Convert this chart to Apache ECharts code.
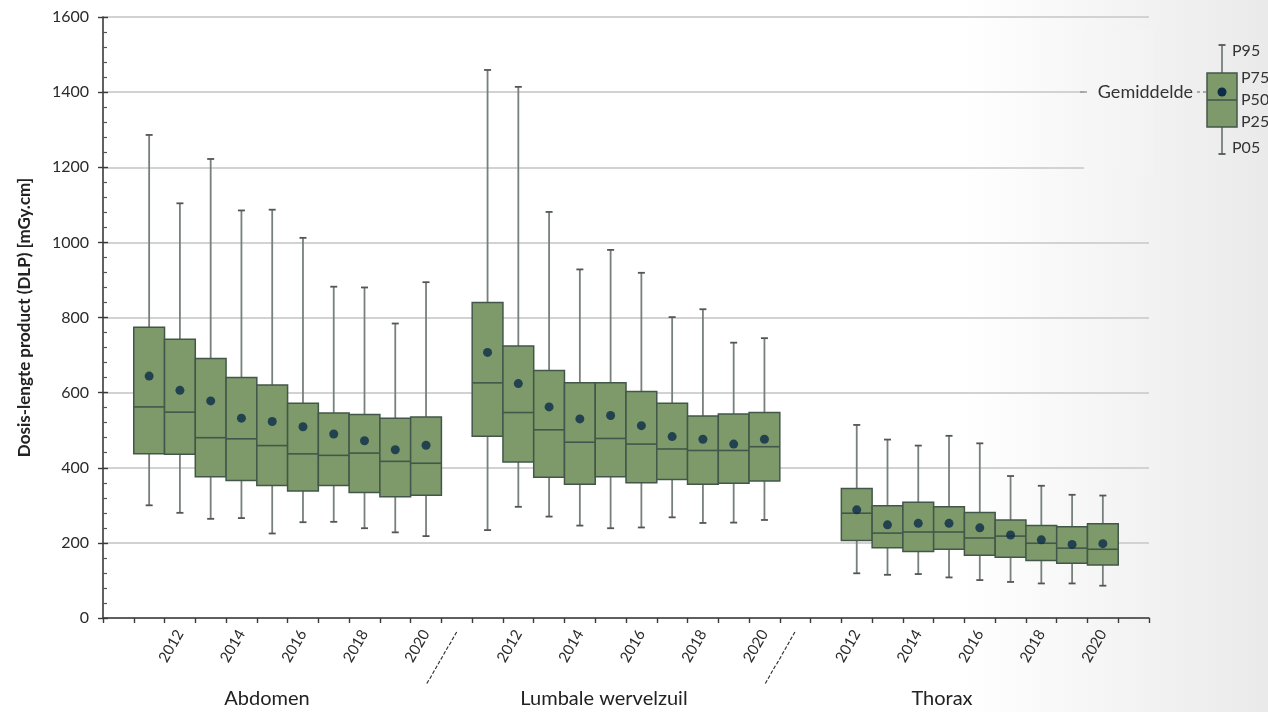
<!DOCTYPE html>
<html>
<head>
<meta charset="utf-8">
<script src="https://cdn.jsdelivr.net/npm/echarts@6/dist/echarts.min.js"></script>
<style>html,body{margin:0;padding:0;background:#fff}#c{width:1268px;height:712px}</style>
</head>
<body>
<div id="c"></div>
<script>
// ---- data ----
const groups = ['Abdomen', 'Lumbale wervelzuil', 'Thorax'];
const years = [2011, 2012, 2013, 2014, 2015, 2016, 2017, 2018, 2019, 2020];
const yTicks = [0, 200, 400, 600, 800, 1000, 1200, 1400, 1600];
const separatorLabel = '-----------';

// per year: [P05, P25, P50, P75, P95]
const abdomenStats = [
  [300, 437, 562, 774, 1286],
  [280, 436, 548, 742, 1104],
  [264, 376, 480, 691, 1222],
  [266, 366, 477, 640, 1085],
  [225, 353, 459, 620, 1087],
  [255, 338, 437, 572, 1012],
  [256, 353, 433, 546, 882],
  [239, 334, 439, 542, 880],
  [228, 323, 417, 532, 784],
  [218, 327, 412, 535, 894]
];
const abdomenMean = [644, 606, 578, 532, 523, 509, 490, 472, 448, 460];

const lumbaleStats = [
  [234, 484, 626, 840, 1459],
  [296, 415, 547, 724, 1414],
  [270, 375, 501, 659, 1081],
  [246, 356, 468, 626, 928],
  [239, 376, 478, 626, 980],
  [241, 360, 463, 603, 919],
  [268, 369, 450, 572, 801],
  [253, 356, 446, 538, 822],
  [254, 359, 446, 543, 733],
  [261, 365, 456, 547, 745]
];
const lumbaleMean = [707, 624, 562, 530, 539, 512, 483, 476, 463, 476];

// Thorax: no data for 2011
const thoraxStats = [
  null,
  [119, 206, 279, 345, 514],
  [115, 187, 226, 299, 475],
  [117, 177, 229, 308, 459],
  [108, 183, 229, 296, 485],
  [101, 167, 213, 281, 465],
  [96, 162, 218, 261, 378],
  [92, 153, 199, 246, 352],
  [92, 146, 186, 243, 328],
  [86, 141, 183, 251, 326]
];
const thoraxMean = [null, 288, 248, 252, 252, 240, 221, 208, 196, 198];

// ---- build category slots ----
const allStats = [abdomenStats, lumbaleStats, thoraxStats];
const allMeans = [abdomenMean, lumbaleMean, thoraxMean];
const categories = ['start'];
const tickLabels = [''];
const boxData = [];
const meanData = [];
groups.forEach((g, gi) => {
  years.forEach((y, yi) => {
    const idx = categories.length;
    categories.push(g + ' ' + y);
    tickLabels.push(y % 2 === 0 ? String(y) : '');
    const s = allStats[gi][yi];
    if (s) boxData.push([idx].concat(s));
    const m = allMeans[gi][yi];
    if (m != null) meanData.push([idx, m]);
  });
  categories.push(gi < groups.length - 1 ? 'sep' + gi : 'end');
  tickLabels.push(gi < groups.length - 1 ? separatorLabel : '');
});

const FONT = 'Lato, "Open Sans", sans-serif';
const BOX_FILL = '#7e9a6a';
const BOX_STROKE = '#42574a';
const WHISKER = '#77807b';
const MEAN_COL = '#0c2c4a';

function renderBox(params, api) {
  const x = api.value(0);
  const pts = [1, 2, 3, 4, 5].map(i => api.coord([x, api.value(i)]));
  const w = api.size([1, 0])[0];
  const cx = pts[0][0];
  const half = w / 2;
  const cap = 3.5;
  return {
    type: 'group',
    children: [
      { type: 'line', shape: { x1: cx, y1: pts[4][1], x2: cx, y2: pts[0][1] }, style: { stroke: WHISKER, lineWidth: 1.8 } },
      { type: 'line', shape: { x1: cx - cap, y1: pts[4][1], x2: cx + cap, y2: pts[4][1] }, style: { stroke: '#555', lineWidth: 1.8 } },
      { type: 'line', shape: { x1: cx - cap, y1: pts[0][1], x2: cx + cap, y2: pts[0][1] }, style: { stroke: '#555', lineWidth: 1.8 } },
      { type: 'rect', shape: { x: cx - half, y: pts[3][1], width: w, height: pts[1][1] - pts[3][1] }, style: { fill: BOX_FILL, stroke: BOX_STROKE, lineWidth: 1.5 } },
      { type: 'line', shape: { x1: cx - half, y1: pts[2][1], x2: cx + half, y2: pts[2][1] }, style: { stroke: BOX_STROKE, lineWidth: 1.6 } }
    ]
  };
}

const chart = echarts.init(document.getElementById('c'), null, { renderer: 'canvas' });

const legendX = 1222;
const option = {
  animation: false,
  backgroundColor: {
    type: 'linear', x: 0, y: 0, x2: 1, y2: 0,
    colorStops: [
      { offset: 0, color: '#ffffff' },
      { offset: 0.76, color: '#ffffff' },
      { offset: 1, color: '#eaeaea' }
    ]
  },
  grid: { left: 103, right: 119, top: 17, bottom: 94 },
  xAxis: {
    type: 'category',
    data: categories,
    boundaryGap: true,
    axisLine: { lineStyle: { color: '#3a3a3a', width: 1.6 } },
    axisTick: { show: true, interval: 0, length: 5, lineStyle: { color: '#3a3a3a', width: 1.4 } },
    axisLabel: {
      interval: 0, rotate: 60, margin: 13,
      fontFamily: FONT, fontSize: 15, color: '#2a2a2a',
      formatter: (v, i) => tickLabels[i]
    },
    splitLine: { show: false }
  },
  yAxis: [
    {
      type: 'value', min: 0, max: 1600, interval: 200,
      name: 'Dosis-lengte product (DLP) [mGy.cm]',
      nameLocation: 'middle', nameGap: 70, nameRotate: 90,
      nameTextStyle: { fontFamily: FONT, fontSize: 17, fontWeight: 'bold', color: '#222' },
      axisLine: { show: true, lineStyle: { color: '#3a3a3a', width: 1.6 } },
      axisTick: { show: true, length: 5, lineStyle: { color: '#3a3a3a', width: 1.4 } },
      axisLabel: { fontFamily: FONT, fontSize: 16, color: '#2a2a2a', margin: 14,
        formatter: v => yTicks.indexOf(v) >= 0 ? String(v) : '' },
      splitLine: { show: true, lineStyle: { color: '#d2d2d2', width: 1.8 } }
    },
    {
      type: 'value', min: 0, max: 1600, interval: 200, position: 'left',
      axisLine: { show: false },
      axisTick: { show: true, inside: true, length: 5, lineStyle: { color: '#3a3a3a', width: 1.4 } },
      minorTick: { show: true, splitNumber: 5, length: 4, lineStyle: { color: '#555', width: 1.2 } },
      axisLabel: { show: false },
      splitLine: { show: false }
    }
  ],
  series: [
    {
      type: 'custom',
      name: 'box',
      renderItem: renderBox,
      data: boxData,
      encode: { x: 0, y: [1, 2, 3, 4, 5] },
      z: 3
    },
    {
      type: 'scatter',
      name: 'Gemiddelde',
      data: meanData,
      symbol: 'circle',
      symbolSize: 9,
      itemStyle: { color: MEAN_COL },
      z: 5
    }
  ],
  graphic: [
    // group labels
    { type: 'text', x: 267, y: 699, style: { text: groups[0], font: '20px ' + FONT, fill: '#222', align: 'center', verticalAlign: 'middle' }, z: 10 },
    { type: 'text', x: 604, y: 699, style: { text: groups[1], font: '20px ' + FONT, fill: '#222', align: 'center', verticalAlign: 'middle' }, z: 10 },
    { type: 'text', x: 942, y: 699, style: { text: groups[2], font: '20px ' + FONT, fill: '#222', align: 'center', verticalAlign: 'middle' }, z: 10 },
    // legend cover
    { type: 'rect', shape: { x: 1084, y: 30, width: 70, height: 145 }, z: 1,
      style: { fill: { type: 'linear', x: 0, y: 0, x2: 1, y2: 0, colorStops: [{ offset: 0, color: '#f6f6f6' }, { offset: 1, color: '#f3f3f3' }] } } },
    // legend box
    { type: 'line', shape: { x1: legendX, y1: 45, x2: legendX, y2: 154 }, style: { stroke: WHISKER, lineWidth: 1.8 }, z: 20 },
    { type: 'line', shape: { x1: legendX - 3.5, y1: 45, x2: legendX + 3.5, y2: 45 }, style: { stroke: '#555', lineWidth: 1.8 }, z: 20 },
    { type: 'line', shape: { x1: legendX - 3.5, y1: 154, x2: legendX + 3.5, y2: 154 }, style: { stroke: '#555', lineWidth: 1.8 }, z: 20 },
    { type: 'rect', shape: { x: 1207, y: 73, width: 30, height: 54 }, style: { fill: BOX_FILL, stroke: BOX_STROKE, lineWidth: 1.5 }, z: 21 },
    { type: 'line', shape: { x1: 1207, y1: 100, x2: 1237, y2: 100 }, style: { stroke: BOX_STROKE, lineWidth: 1.6 }, z: 22 },
    { type: 'circle', shape: { cx: legendX, cy: 92, r: 4.5 }, style: { fill: MEAN_COL }, z: 23 },
    { type: 'line', shape: { x1: 1197, y1: 92, x2: 1214, y2: 92 }, style: { stroke: '#666', lineWidth: 1.2, lineDash: [3, 3] }, z: 20 },
    { type: 'line', shape: { x1: 1080, y1: 92, x2: 1087, y2: 92 }, style: { stroke: '#888', lineWidth: 1.2 }, z: 20 },
    { type: 'text', x: 1193, y: 92, style: { text: 'Gemiddelde', font: '18px ' + FONT, fill: '#333', align: 'right', verticalAlign: 'middle' }, z: 20 },
    { type: 'text', x: 1232, y: 51, style: { text: 'P95', font: '16px ' + FONT, fill: '#333', verticalAlign: 'middle' }, z: 20 },
    { type: 'text', x: 1241, y: 78, style: { text: 'P75', font: '16px ' + FONT, fill: '#333', verticalAlign: 'middle' }, z: 20 },
    { type: 'text', x: 1241, y: 100, style: { text: 'P50', font: '16px ' + FONT, fill: '#333', verticalAlign: 'middle' }, z: 20 },
    { type: 'text', x: 1241, y: 122, style: { text: 'P25', font: '16px ' + FONT, fill: '#333', verticalAlign: 'middle' }, z: 20 },
    { type: 'text', x: 1232, y: 148, style: { text: 'P05', font: '16px ' + FONT, fill: '#333', verticalAlign: 'middle' }, z: 20 }
  ]
};
chart.setOption(option);
</script>
</body>
</html>
